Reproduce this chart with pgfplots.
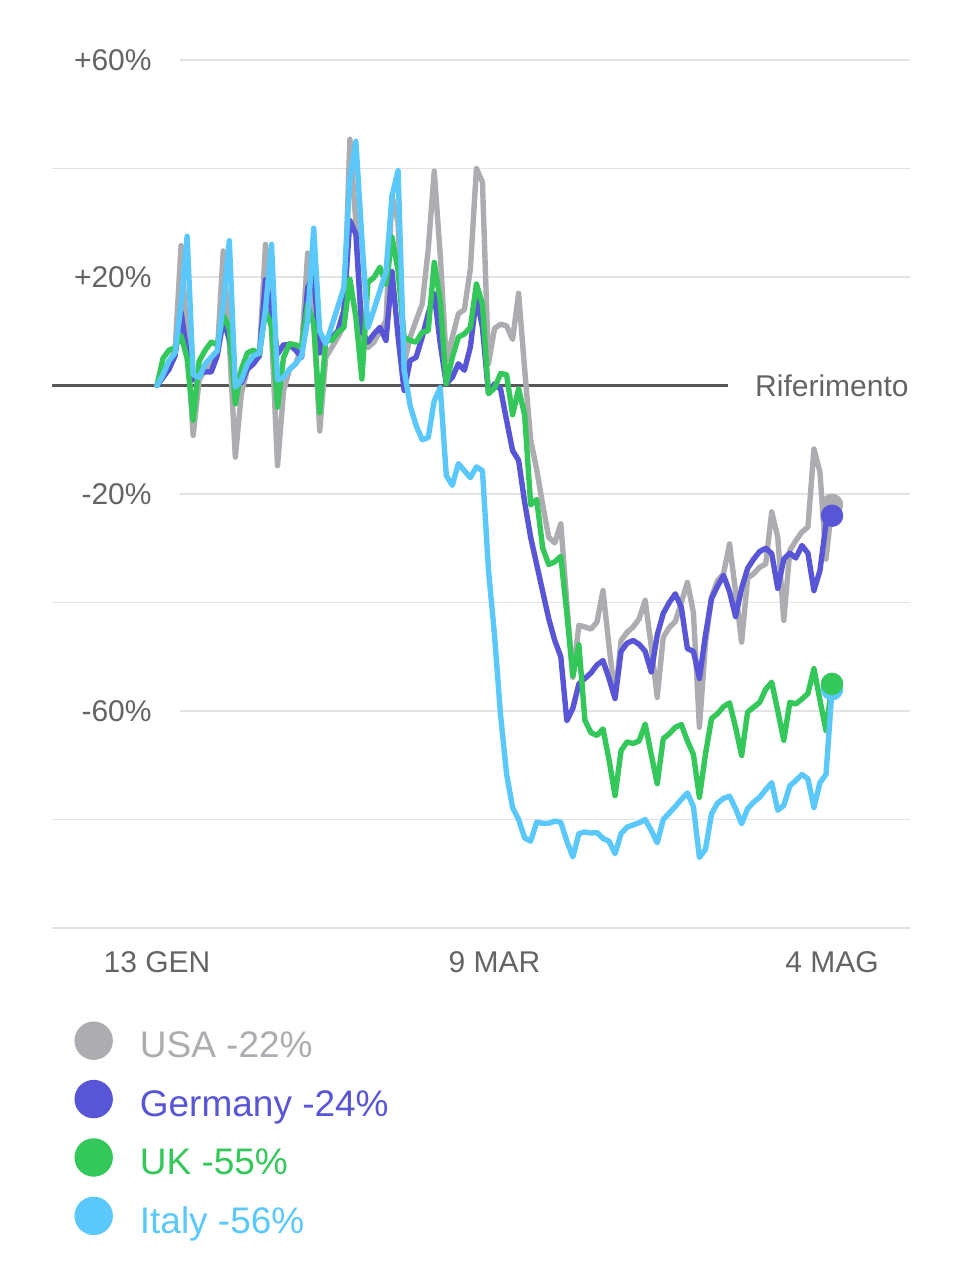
\documentclass[border=0pt]{standalone}
\usepackage{fontspec}
\setmainfont{Liberation Sans}
\usepackage{pgfplots}
\usepackage{pgfplotstable}
\pgfplotsset{compat=1.18}
\definecolor{usa}{RGB}{172,172,177}
\definecolor{ger}{RGB}{88,86,214}
\definecolor{uk}{RGB}{52,199,89}
\definecolor{ita}{RGB}{90,200,250}
\definecolor{gridc}{RGB}{226,226,231}
\definecolor{basec}{RGB}{88,88,90}
\definecolor{txt}{RGB}{100,100,102}
\pgfplotstableread{
d usa ger uk ita
0 0 0 0 0
1 2.5 1.5 5 2
2 4 3 6.5 4.6
3 6.5 5.5 7 6
4 25.8 13.5 9.2 15
5 8 6 5 27.5
6 -9.2 1 -6.4 2
7 1 2.5 4.5 1.5
8 3 2.5 6.5 4
9 4 2.5 8 5.2
10 6 5.5 7.5 6.4
11 24.8 12 13 15
12 8 8.5 10.5 26.7
13 -13.2 1.5 -3.4 -0.3
14 -1.5 0.5 3 1
15 3 3 6 4
16 4.5 4 6.5 5.5
17 5.5 5.5 5.8 6
18 26 19.5 13.8 14
19 10 14 11 26
20 -14.8 5.8 -4 1
21 -1 7.5 5.2 1.5
22 3 7.5 7.7 3
23 4 6.5 7.5 4
24 7 5.2 7 5.5
25 24.4 18 15 12
26 12 20.5 11.3 29
27 -8.4 6 -5 10
28 5.2 8.3 8.3 7.7
29 7 8.9 8.3 11
30 8.9 10 9.8 14.5
31 11 13.8 10.7 18
32 45.4 30.4 19.6 38
33 30 27.9 12.6 45
34 9 10 1.2 27
35 7 8 19 10.7
36 8 9.5 19.9 14
37 10 10.7 21.8 17.5
38 12 8.3 18.7 21
39 35 21 27.3 35
40 30 9 21.2 39.6
41 4 -0.9 8.9 3
42 8.9 4.6 8.3 -3.7
43 12 5.2 8 -7.4
44 15 8.9 9.8 -10
45 25 13.2 10.1 -9.6
46 39.5 16.9 22.7 -2.8
47 24 7.7 15.6 -0.4
48 4.6 0.3 0.3 -16.6
49 8.9 1.5 5.2 -18.4
50 13.2 4 8.9 -14.4
51 14 2.8 9.5 -15.7
52 21.5 7.1 10.7 -17
53 40 16.3 18.7 -15
54 37.5 10.7 15 -15.7
55 4 -1.5 -1.5 -34
56 10.5 0.3 -0.5 -46
57 11.3 -0.6 2.2 -60.7
58 11 -6.4 2 -71.6
59 8.5 -12 -5.4 -77.8
60 17 -13.8 -0.6 -80
61 3 -21.5 -5.4 -83.4
62 -10 -28 -22 -84
63 -15.5 -33 -21 -80.5
64 -22 -38 -30 -80.7
65 -28 -43 -33 -80.7
66 -29 -47 -32.5 -80.3
67 -25.5 -50 -31.5 -80.5
68 -40 -61.8 -42 -84
69 -53.8 -59.5 -53.5 -86.9
70 -44.2 -55 -47.8 -82.6
71 -44.5 -54 -61.7 -82.3
72 -44.9 -53 -64 -82.5
73 -43.6 -51.5 -64.5 -82.4
74 -37.8 -50.7 -63.3 -83.5
75 -48 -54 -69 -84
76 -57.5 -57.7 -75.6 -86.3
77 -47 -49 -67.3 -82.6
78 -45.5 -47.5 -65.7 -81.4
79 -44.5 -47 -66 -81
80 -43 -47.7 -65.5 -80.6
81 -39.6 -49 -62.4 -80
82 -48 -52.8 -68 -82
83 -57.5 -46 -73.4 -84.3
84 -46.4 -42 -65.1 -80
85 -44.6 -40 -64.2 -78.8
86 -43.5 -38.4 -63 -77.6
87 -40 -40.9 -62.5 -76.3
88 -36.3 -48.5 -65.5 -75.1
89 -41.8 -49 -68 -77.6
90 -63 -54 -75.9 -87
91 -47.6 -46 -68 -85.5
92 -39 -39.3 -61.4 -79
93 -36 -37 -60.5 -77
94 -34.7 -35 -59.2 -76.1
95 -29.2 -38 -58.5 -75.7
96 -38 -42.6 -63 -78
97 -47.3 -37.4 -68.2 -80.8
98 -35.5 -33.7 -60.2 -78
99 -34.7 -32 -59.3 -76.8
100 -33.5 -30.6 -58.4 -75.9
101 -32.9 -30 -56 -74.5
102 -23.3 -31 -54.7 -73.2
103 -28 -37.4 -60 -78.3
104 -43.3 -32 -65.4 -77.4
105 -30.4 -30.9 -58.4 -73.8
106 -28.6 -31.8 -58.7 -72.8
107 -27 -29.5 -57.8 -71.7
108 -26.1 -30.9 -56.8 -72.5
109 -11.7 -37.8 -52.2 -77.8
110 -16 -34.1 -58 -73.2
111 -32 -25.5 -63.6 -71.7
112 -22 -24 -55 -56
}\data
\begin{document}
\begin{tikzpicture}
\useasboundingbox (0,0) rectangle (481.5pt,640pt);
\begin{axis}[
  at={(26pt,176pt)}, anchor=south west,
  width=429pt, height=434pt, scale only axis,
  xmin=-17.42, xmax=124.94, ymin=-100, ymax=60,
  axis lines=none, clip=false,
  legend style={at={(axis description cs:0.0262,-0.1077)}, anchor=north west,
    draw=none, fill=none, inner sep=0pt, outer sep=0pt, row sep=10pt,
    font=\fontsize{18.5pt}{22pt}\selectfont,
    nodes={inner sep=0pt, text height=17.2pt, text depth=0pt},
    /tikz/every odd column/.append style={column sep=13.5pt}},
  legend cell align=left,
  legend image code/.code={\fill[#1] (8.25pt,0pt) circle (8.25pt);},
  every axis plot/.append style={line width=2.7pt, line join=round, line cap=round},
]
% grid lines
\draw[gridc, line width=0.8pt] (3.8,60) -- (124.94,60);
\draw[gridc, line width=0.8pt] (-17.42,40) -- (124.94,40);
\draw[gridc, line width=0.8pt] (3.8,20) -- (124.94,20);
\draw[gridc, line width=0.8pt] (3.8,-20) -- (124.94,-20);
\draw[gridc, line width=0.8pt] (-17.42,-40) -- (124.94,-40);
\draw[gridc, line width=0.8pt] (3.8,-60) -- (124.94,-60);
\draw[gridc, line width=0.8pt] (-17.42,-80) -- (124.94,-80);
\draw[gridc, line width=0.8pt] (-17.42,-100) -- (124.94,-100);
\draw[basec, line width=1.1pt] (-17.42,0) -- (94.7,0);
% labels
\begin{scope}[every node/.style={font=\fontsize{15pt}{18pt}\selectfont, text=txt, inner sep=0pt}]
\node[anchor=east] at (-0.83,60) {+60\%};
\node[anchor=east] at (-0.83,20) {+20\%};
\node[anchor=east] at (-0.83,-20) {-20\%};
\node[anchor=east] at (-0.83,-60) {-60\%};
\node[anchor=east] at (124.77,0) {Riferimento};
\node at (0,-100) [yshift=-17pt] {13 GEN};
\node at (56,-100) [yshift=-17pt] {9 MAR};
\node at (112,-100) [yshift=-17pt] {4 MAG};
\end{scope}
\addplot[color=usa, mark=none] table[x=d, y=usa] {\data};
\addlegendentry{\textcolor{usa}{USA -22\%}}
\addplot[color=ger, mark=none] table[x=d, y=ger] {\data};
\addlegendentry{\textcolor{ger}{Germany -24\%}}
\addplot[color=uk, mark=none] table[x=d, y=uk] {\data};
\addlegendentry{\textcolor{uk}{UK -55\%}}
\addplot[color=ita, mark=none] table[x=d, y=ita] {\data};
\addlegendentry{\textcolor{ita}{Italy -56\%}}
% end dots
\addplot[forget plot, only marks, mark=*, mark size=4.25pt, color=usa, skip coords between index={0}{112}] table[x=d, y=usa] {\data};
\addplot[forget plot, only marks, mark=*, mark size=4.25pt, color=ger, skip coords between index={0}{112}] table[x=d, y=ger] {\data};
\addplot[forget plot, only marks, mark=*, mark size=4.25pt, color=ita, skip coords between index={0}{112}] table[x=d, y=ita] {\data};
\addplot[forget plot, only marks, mark=*, mark size=4.25pt, color=uk, skip coords between index={0}{112}] table[x=d, y=uk] {\data};
\end{axis}
\end{tikzpicture}
\end{document}
